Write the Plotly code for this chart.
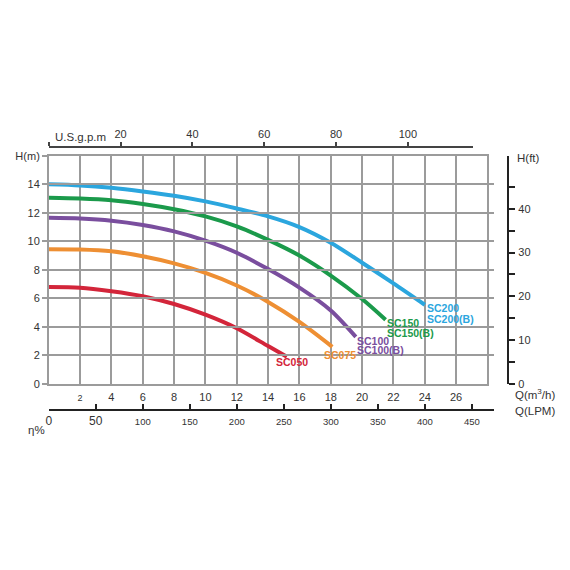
import plotly.graph_objects as go

# pump curves: flow Q (m3/h) vs head H (m)
q_sc200 = [0, 2, 4, 6, 8, 10, 12, 14, 16, 18, 20, 22, 24]
h_sc200 = [14.0, 13.92, 13.75, 13.5, 13.2, 12.8, 12.3, 11.75, 11.0, 9.9, 8.5, 7.05, 5.55]
q_sc150 = [0, 2, 4, 6, 8, 10, 12, 14, 16, 18, 20, 21.5]
h_sc150 = [13.05, 13.0, 12.88, 12.62, 12.25, 11.75, 11.05, 10.1, 9.0, 7.6, 5.95, 4.5]
q_sc100 = [0, 2, 4, 6, 8, 10, 12, 14, 16, 18, 19.6]
h_sc100 = [11.65, 11.6, 11.45, 11.15, 10.7, 10.05, 9.2, 8.05, 6.75, 5.15, 3.3]
q_sc075 = [0, 2, 4, 6, 8, 10, 12, 14, 16, 18.1]
h_sc075 = [9.45, 9.43, 9.3, 8.95, 8.45, 7.78, 6.9, 5.75, 4.35, 2.6]
q_sc050 = [0, 2, 4, 6, 8, 10, 12, 14, 15.2]
h_sc050 = [6.8, 6.75, 6.5, 6.15, 5.6, 4.85, 3.9, 2.65, 1.9]

series_names = ['SC200', 'SC150', 'SC100', 'SC075', 'SC050']
series_labels = [['SC200', 'SC200(B)'], ['SC150', 'SC150(B)'], ['SC100', 'SC100(B)'], ['SC075'], ['SC050']]
colors = ['#2BA6DE', '#1B9A4B', '#7A4E9E', '#EE8F33', '#D3253A']

# axis ticks
q_ticks = list(range(2, 28, 2))
h_ticks = list(range(0, 18, 2))
gpm_ticks = [0, 20, 40, 60, 80, 100]
ft_ticks = list(range(0, 50, 5))
lpm_ticks = list(range(0, 500, 50))

W = 570
FONT = 'Liberation Sans, Arial, sans-serif'
GRID = '#9b9b9b'
TXT = '#333333'


def px(p):  # pixel -> paper x
    return p / W


def py(p):  # pixel -> paper y
    return 1 - p / W


fig = go.Figure()

data = [(q_sc200, h_sc200), (q_sc150, h_sc150), (q_sc100, h_sc100), (q_sc075, h_sc075), (q_sc050, h_sc050)]
for (q, h), name, col in zip(data, series_names, colors):
    fig.add_trace(go.Scatter(x=q, y=h, mode='lines', name=name,
                             line=dict(color=col, width=4, shape='spline', smoothing=0.8),
                             showlegend=False, hoverinfo='x+y'))

# invisible traces so the extra axes get drawn
fig.add_trace(go.Scatter(x=[0], y=[0], xaxis='x2', yaxis='y', mode='markers', marker=dict(opacity=0),
                         showlegend=False, hoverinfo='skip'))
fig.add_trace(go.Scatter(x=[0], y=[0], xaxis='x', yaxis='y2', mode='markers', marker=dict(opacity=0),
                         showlegend=False, hoverinfo='skip'))
fig.add_trace(go.Scatter(x=[0], y=[0], xaxis='x3', yaxis='y', mode='markers', marker=dict(opacity=0),
                         showlegend=False, hoverinfo='skip'))

# curve end labels (position of each label block: left x in Q, y in H)
label_pos = [(24.0, [5.3, 4.55]), (21.45, [4.25, 3.6]), (19.55, [3.0, 2.4]), (17.45, [2.05]), (14.4, [1.5])]
for (lx, lys), texts, col in zip(label_pos, series_labels, colors):
    for ly, t in zip(lys, texts):
        fig.add_annotation(x=lx, y=ly, xref='x', yref='y', text='<b>' + t + '</b>', showarrow=False,
                           xanchor='left', yanchor='middle', font=dict(family=FONT, size=10.5, color=col))

plot_dom_y = [py(386), py(153)]

fig.update_layout(
    width=W, height=W,
    margin=dict(l=0, r=0, t=0, b=0),
    paper_bgcolor='white', plot_bgcolor='rgba(0,0,0,0)',
    font=dict(family=FONT, size=11, color=TXT),
    xaxis=dict(domain=[px(46), px(487)], range=[0, 28], tickvals=q_ticks,
               ticktext=['<span style="font-size:9px">2</span>'] + [str(v) for v in q_ticks[1:]],
               showgrid=True, gridcolor=GRID, gridwidth=1.5, showline=True, mirror=True,
               linecolor=GRID, linewidth=1.5, zeroline=False, ticks='', ticklabelstandoff=2,
               tickfont=dict(size=11, color=TXT)),
    yaxis=dict(domain=plot_dom_y, range=[0, 16], tickvals=h_ticks,
               ticktext=[str(v) for v in h_ticks[:-1]] + ['H(m)'],
               showgrid=True, gridcolor=GRID, gridwidth=1.5, showline=True, mirror=True,
               linecolor=GRID, linewidth=1.5, zeroline=False, ticks='outside', ticklen=5,
               tickcolor=GRID, tickwidth=1.5, tickfont=dict(size=11, color=TXT)),
    xaxis2=dict(domain=[px(46), px(472)], range=[0, 118], anchor='free', position=py(144), side='top',
                tickvals=gpm_ticks, ticktext=[''] + [str(v) for v in gpm_ticks[1:]],
                showgrid=False, zeroline=False, showline=True, linecolor='#444', linewidth=2,
                ticks='outside', ticklen=4, tickcolor='#444', tickwidth=1.5, tickfont=dict(size=11, color=TXT)),
    yaxis2=dict(domain=plot_dom_y, range=[0, 52.1], anchor='free', position=px(508), side='right',
                overlaying='y', tickvals=ft_ticks,
                ticktext=[str(v) if v % 10 == 0 else '' for v in ft_ticks],
                showgrid=False, zeroline=False, showline=True, linecolor='#222', linewidth=1.5,
                ticks='outside', ticklen=6, tickcolor='#222', tickwidth=1.5, ticklabelstandoff=1,
                tickfont=dict(size=11, color=TXT)),
    xaxis3=dict(domain=[px(46), px(494)], range=[0, 474], anchor='free', position=py(413), side='bottom',
                tickvals=lpm_ticks,
                ticktext=['<span style="font-size:12px">0</span>', '<span style="font-size:12px">50</span>']
                + ['<span style="font-size:9.5px">%d</span>' % v for v in lpm_ticks[2:]],
                showgrid=False, zeroline=False, showline=True, linecolor='#222', linewidth=2,
                ticks='inside', ticklen=5, tickcolor='#222', tickwidth=1.5, ticklabelstandoff=0,
                tickfont=dict(size=11, color=TXT)),
)

# axis titles
for txt, x, y in [('U.S.g.p.m', 50, 134), ('H(ft)', 515, 155), ('Q(m<sup>3</sup>/h)', 513, 396),
                  ('Q(LPM)', 513, 414), ('η%', 23, 433)]:
    fig.add_annotation(x=px(x), y=py(y), xref='paper', yref='paper', text=txt, showarrow=False,
                       xanchor='left', yanchor='middle', font=dict(family=FONT, size=11.5, color=TXT))

# drop the default page margin so the figure sits at the window corner
fig.write_html('out.html', config={'displayModeBar': False},
               post_script="document.body.style.margin='0';")
